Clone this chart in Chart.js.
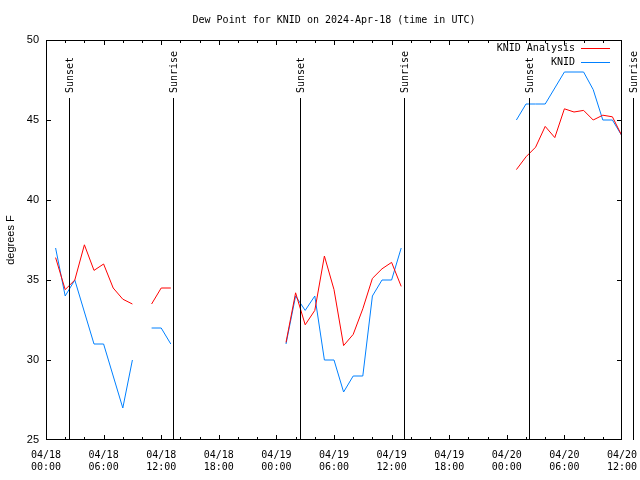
<!DOCTYPE html>
<html>
<head>
<meta charset="utf-8">
<script src="https://cdn.jsdelivr.net/npm/chart.js@4/dist/chart.umd.min.js"></script>
<style>
html,body{margin:0;padding:0;background:#fff;}
canvas{display:block;}
</style>
</head>
<body>
<canvas id="c" width="640" height="480"></canvas>
<script>
// hours since 2024-04-18 00:00 UTC (null rows break the line)
const hours = [1,2,3,4,5,6,7,8,9,10,11,12,13,14,
               25,26,27,28,29,30,31,32,33,34,35,36,37,38,
               49,50,51,52,53,54,55,56,57,58,59,60];
const knidAnalysis = [36.4,34.4,35.0,37.2,35.6,36.0,34.5,33.8,33.5,null,33.5,34.5,34.5,null,
                      31.1,34.2,32.2,33.1,36.5,34.4,30.9,31.6,33.2,35.1,35.7,36.1,34.6,null,
                      41.9,42.7,43.3,44.6,43.9,45.7,45.5,45.6,45.0,45.3,45.2,44.0];
const knid = [37,34,35,33,31,31,29,27,30,null,32,32,31,null,
              31,34,33.1,34,30,30,28,29,29,34,35,35,37,null,
              45,46,46,46,47,48,48,48,46.9,45,45,44];
const tickDates = ['04/18','04/18','04/18','04/18','04/19','04/19','04/19','04/19','04/20','04/20','04/20'];
const tickTimes = ['00:00','06:00','12:00','18:00','00:00','06:00','12:00','18:00','00:00','06:00','12:00'];
const sunHours = [2.43, 13.26, 26.45, 37.3, 50.35, 61.1];
const sunLabels = ['Sunset','Sunrise','Sunset','Sunrise','Sunset','Sunrise'];
const seriesNames = ['KNID Analysis', 'KNID'];
const titleText = 'Dew Point for KNID on 2024-Apr-18 (time in UTC)';
const yTitle = 'degrees F';

const RED = '#ff0000';
const BLUE = '#0080ff';
const seriesColors = [RED, BLUE];
const MONO = '"DejaVu Sans Mono", "Liberation Mono", monospace';
const SANS = '"Liberation Sans", Arial, sans-serif';

const toPts = arr => hours.map((h, i) => ({x: h, y: arr[i]}));

const decor = {
  id: 'decor',
  afterDraw(chart) {
    const ctx = chart.ctx;
    const a = chart.chartArea;
    const xs = chart.scales.x, ys = chart.scales.y;
    const L = Math.round(a.left), R = Math.round(a.right), T = Math.round(a.top), B = Math.round(a.bottom);
    ctx.save();
    ctx.fillStyle = '#000';
    // frame
    ctx.fillRect(L, T, R - L, 1);
    ctx.fillRect(L, B - 1, R - L, 1);
    ctx.fillRect(L, T, 1, B - T);
    ctx.fillRect(R - 1, T, 1, B - T);
    // x ticks (inward, top and bottom)
    for (let h = 2; h < 60; h += 2) {
      const px = Math.round(xs.getPixelForValue(h));
      const len = (h % 6 === 0) ? 5 : 3;
      ctx.fillRect(px, B - len, 1, len);
      ctx.fillRect(px, T, 1, len);
    }
    // y ticks (inward, left and right)
    for (let v = 30; v < 50; v += 5) {
      const py = Math.round(ys.getPixelForValue(v));
      ctx.fillRect(L, py, 5, 1);
      ctx.fillRect(R - 5, py, 5, 1);
    }
    // sunrise / sunset markers
    ctx.font = '10px ' + MONO;
    sunHours.forEach((h, i) => {
      const px = Math.round(xs.getPixelForValue(h));
      ctx.fillStyle = '#000';
      ctx.fillRect(px, 98, 1, B - 98);
      ctx.save();
      ctx.translate(px + 1, 93);
      ctx.rotate(-Math.PI / 2);
      ctx.textAlign = 'left';
      ctx.textBaseline = 'middle';
      ctx.fillText(sunLabels[i], 0, 0);
      ctx.restore();
    });
    // legend
    for (let i = 0; i < seriesNames.length; i++) {
      const y = 48 + i * 14;
      ctx.textAlign = 'right';
      ctx.textBaseline = 'middle';
      ctx.fillStyle = '#000';
      ctx.fillText(seriesNames[i], 575, y);
      ctx.fillStyle = seriesColors[i];
      ctx.fillRect(581, y, 29, 1);
    }
    // title
    ctx.fillStyle = '#000';
    ctx.textAlign = 'center';
    ctx.textBaseline = 'middle';
    ctx.fillText(titleText, (L + R) / 2, 20);
    // y title
    ctx.font = '11px ' + SANS;
    ctx.save();
    ctx.translate(11, (T + B) / 2);
    ctx.rotate(-Math.PI / 2);
    ctx.fillText(yTitle, 0, 0);
    ctx.restore();
    ctx.restore();
  }
};

new Chart(document.getElementById('c'), {
  type: 'line',
  data: {
    datasets: [
      {label: seriesNames[0], data: toPts(knidAnalysis), borderColor: RED, backgroundColor: RED,
       borderWidth: 1, pointRadius: 0, tension: 0, spanGaps: false},
      {label: seriesNames[1], data: toPts(knid), borderColor: BLUE, backgroundColor: BLUE,
       borderWidth: 1, pointRadius: 0, tension: 0, spanGaps: false}
    ]
  },
  options: {
    responsive: false,
    animation: false,
    layout: {padding: {top: 40, right: 18, left: 0, bottom: 0}},
    plugins: {legend: {display: false}, title: {display: false}, tooltip: {enabled: false}},
    scales: {
      x: {
        type: 'linear', min: 0, max: 60,
        grid: {display: false, drawTicks: false, tickLength: 0},
        border: {display: false},
        afterFit: s => { s.height = 40; s.paddingLeft = 0; s.paddingRight = 0; },
        ticks: {
          stepSize: 6, autoSkip: false, maxRotation: 0, minRotation: 0,
          padding: 9, color: '#000',
          font: {family: MONO, size: 10, lineHeight: 1.2},
          callback: v => { const i = Math.round(v / 6); return [tickDates[i], tickTimes[i]]; }
        }
      },
      y: {
        min: 25, max: 50,
        grid: {display: false, drawTicks: false, tickLength: 0},
        border: {display: false},
        afterFit: s => { s.width = 46; s.paddingTop = 0; s.paddingBottom = 0; },
        ticks: {stepSize: 5, padding: 7, color: '#000', font: {family: SANS, size: 11}}
      }
    }
  },
  plugins: [decor]
});
</script>
</body>
</html>
